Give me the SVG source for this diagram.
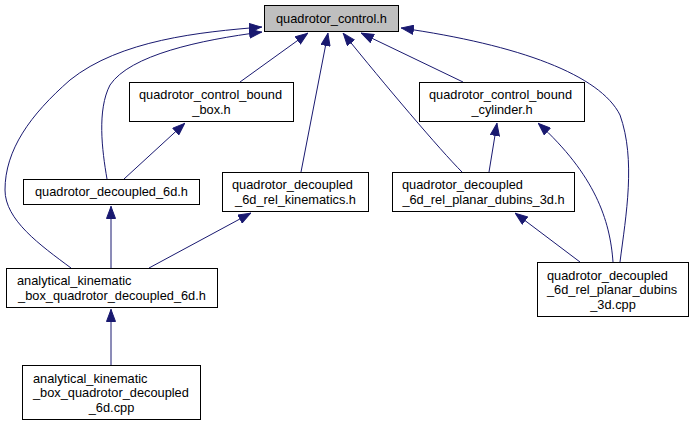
<svg xmlns="http://www.w3.org/2000/svg" width="693" height="427" viewBox="0 0 693 427">
<defs>
<marker id="ah" markerUnits="userSpaceOnUse" viewBox="0 0 13 10" refX="13" refY="5" markerWidth="13" markerHeight="10" orient="auto">
<path d="M0.5,0.5 L12.5,5 L0.5,9.5 z" fill="#191970" stroke="#191970" stroke-width="1"/>
</marker>
</defs>
<style>
.n rect{fill:#fff;stroke:#000;stroke-width:1}
.n text{font-family:"Liberation Sans",Arial,Helvetica,sans-serif;font-size:12.8px;fill:#000}
.c{text-anchor:middle}
.e path{fill:none;stroke:#191970;stroke-width:1;marker-end:url(#ah)}
</style>
<rect width="693" height="427" fill="#fff"/>
<g class="e" id="edges">
<path d="M240,82 L308,33"/>
<path d="M463,82 L361,33"/>
<path d="M301,172 L328,33"/>
<path d="M462,172 C440,150 385,85 343,33"/>
<path d="M107,179 C102,150 97,110 110,85 C130,55 200,40 262,32"/>
<path d="M71,268 C40,245 5,220 5,190 C5,150 30,115 70,80 C120,40 200,32 262,27"/>
<path d="M124,179 L185,123"/>
<path d="M489,172 L497,123"/>
<path d="M613,262 C610,220 595,175 538,123"/>
<path d="M620,262 C626,215 636,160 620,115 C600,75 520,45 401,28"/>
<path d="M111,268 L111,206"/>
<path d="M149,268 L251,213"/>
<path d="M111,365 L111,309"/>
<path d="M580,262 L515,213"/>
</g>
<g class="n" id="quadrotor_control_h">
<rect x="264.5" y="5.5" width="134" height="26" style="fill:#bfbfbf"/>
<text class="c" x="331.5" y="22.5">quadrotor_control.h</text>
</g>
<g class="n" id="quadrotor_control_bound_box_h">
<rect x="129.5" y="82.5" width="164" height="39"/>
<text x="139" y="99">quadrotor_control_bound</text>
<text class="c" x="211.5" y="113.5">_box.h</text>
</g>
<g class="n" id="quadrotor_control_bound_cylinder_h">
<rect x="419.5" y="82.5" width="165" height="39"/>
<text x="429" y="99">quadrotor_control_bound</text>
<text class="c" x="502" y="113.5">_cylinder.h</text>
</g>
<g class="n" id="quadrotor_decoupled_6d_h">
<rect x="23.5" y="179.5" width="176" height="25"/>
<text class="c" x="111.5" y="196">quadrotor_decoupled_6d.h</text>
</g>
<g class="n" id="quadrotor_decoupled_6d_rel_kinematics_h">
<rect x="222.5" y="172.5" width="146" height="39"/>
<text x="232" y="189">quadrotor_decoupled</text>
<text class="c" x="295.5" y="203.5">_6d_rel_kinematics.h</text>
</g>
<g class="n" id="quadrotor_decoupled_6d_rel_planar_dubins_3d_h">
<rect x="392.5" y="172.5" width="182" height="39"/>
<text x="402" y="189">quadrotor_decoupled</text>
<text class="c" x="483.5" y="203.5">_6d_rel_planar_dubins_3d.h</text>
</g>
<g class="n" id="analytical_kinematic_box_quadrotor_decoupled_6d_h">
<rect x="6.5" y="268.5" width="211" height="39"/>
<text x="17" y="285">analytical_kinematic</text>
<text class="c" x="112" y="299.5">_box_quadrotor_decoupled_6d.h</text>
</g>
<g class="n" id="quadrotor_decoupled_6d_rel_planar_dubins_3d_cpp">
<rect x="537.5" y="262.5" width="151" height="54"/>
<text x="547" y="279.5">quadrotor_decoupled</text>
<text x="547" y="294">_6d_rel_planar_dubins</text>
<text class="c" x="613" y="308.5">_3d.cpp</text>
</g>
<g class="n" id="analytical_kinematic_box_quadrotor_decoupled_6d_cpp">
<rect x="22.5" y="365.5" width="178" height="54"/>
<text x="33" y="382.5">analytical_kinematic</text>
<text x="33" y="397">_box_quadrotor_decoupled</text>
<text class="c" x="111.5" y="411.5">_6d.cpp</text>
</g>
</svg>
